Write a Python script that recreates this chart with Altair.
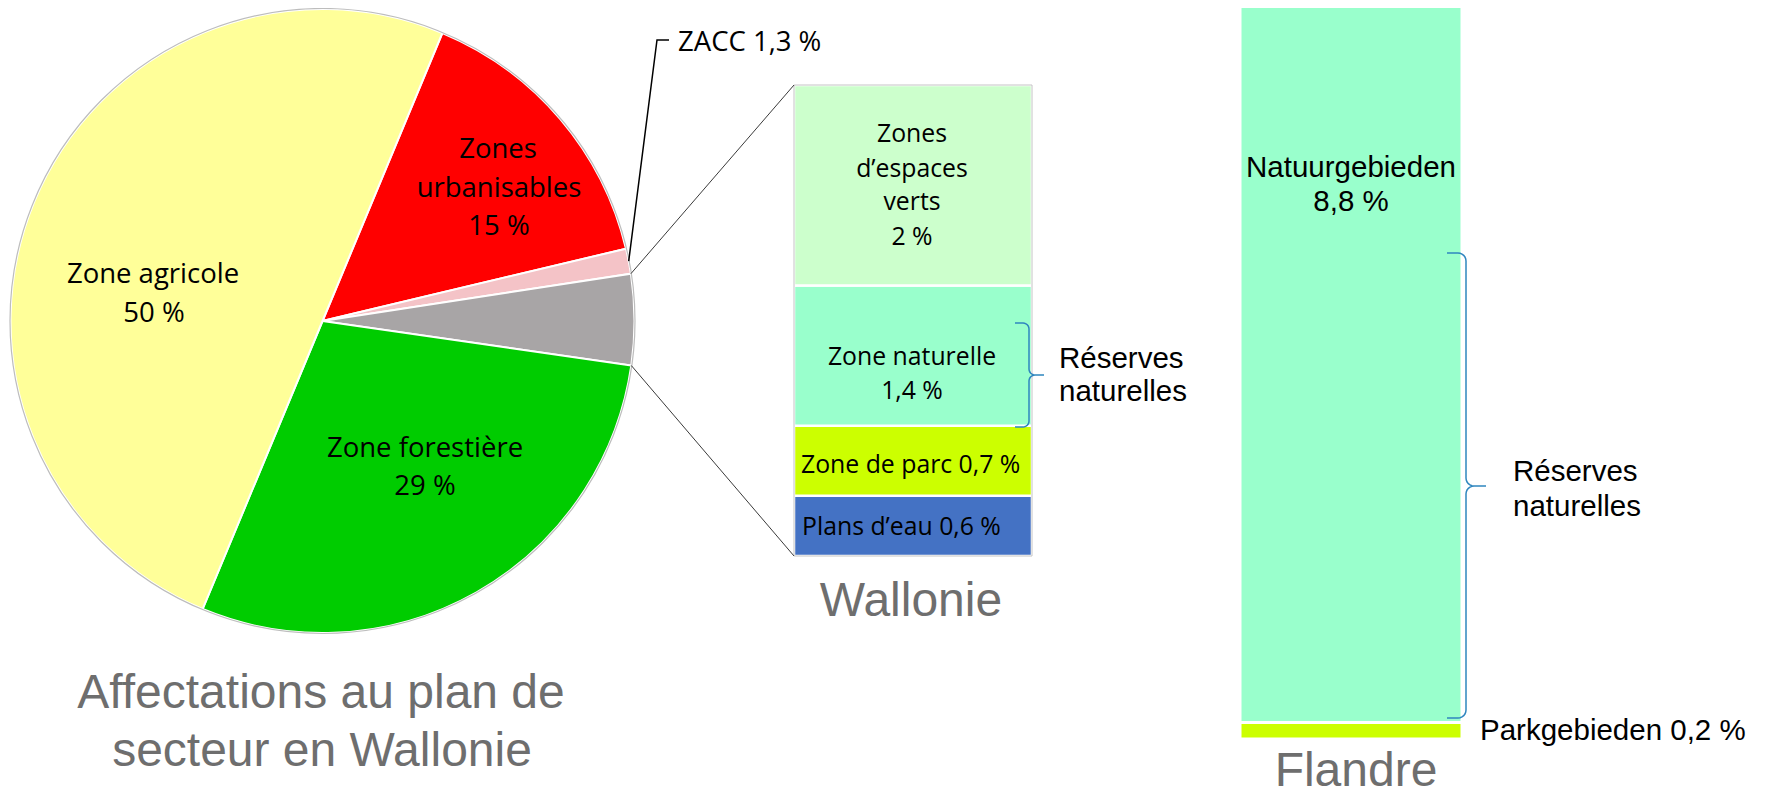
import math
import numpy as np
import pandas as pd
import altair as alt

# ---------------- data ----------------
PIE_LABELS = ["Zones urbanisables", "ZACC", "Espaces verts et naturels", "Zone forestière", "Zone agricole"]
PIE_VALUES = [15, 1.3, 4.7, 29, 50]
PIE_COLORS = ["#FF0000", "#F4C3C7", "#A8A5A6", "#00CC00", "#FFFF99"]

WAL_LABELS = ["Plans d’eau", "Zone de parc", "Zone naturelle", "Zones d’espaces verts"]
WAL_VALUES = [0.6, 0.7, 1.4, 2.0]
WAL_COLORS = ["#4472C4", "#CCFF00", "#99FFCC", "#CCFFCC"]

FLA_LABELS = ["Parkgebieden", "Natuurgebieden"]
FLA_VALUES = [0.2, 8.8]
FLA_COLORS = ["#CCFF00", "#99FFCC"]

# ---------------- layout ----------------
W, H = 1755, 790
CX, CY, R = 314.5, 313, 312
T0 = math.radians(22.6)
WAL_X = (786, 1024)
WAL_Y = (548, 77)
FLA_X = (1232, 1454)
FLA_Y = (731, -10)

CAL = "Open Sans"
HEL = "Liberation Sans"
GREY_TITLE = "#6E6E6E"


def ang(v):
    return T0 + 2 * math.pi * v / 100.0


def on_circle(v):
    a = ang(v)
    return CX + R * math.sin(a), CY - R * math.cos(a)


def text_layer(items, font, size, color="black", align="center", baseline="alphabetic"):
    df = pd.DataFrame(items, columns=["t", "x", "y"])
    return alt.Chart(df).mark_text(
        font=font, fontSize=size, color=color, align=align, baseline=baseline
    ).encode(
        x=alt.X("x:Q", scale=None),
        y=alt.Y("y:Q", scale=None),
        text="t:N",
    )


def line_layer(segments, color, width):
    rows = []
    for s, pts in enumerate(segments):
        for i, (x, y) in enumerate(pts):
            rows.append({"seg": s, "i": i, "x": x, "y": y})
    df = pd.DataFrame(rows)
    return alt.Chart(df).mark_line(color=color, strokeWidth=width).encode(
        x=alt.X("x:Q", scale=None),
        y=alt.Y("y:Q", scale=None),
        detail="seg:N",
        order="i:Q",
    )


def brace(xl, xv, xt, ytop, ybot, ymid, r):
    pts = [(xl, ytop)]
    for t in np.linspace(-90, 0, 7):
        a = math.radians(t)
        pts.append((xv - r + r * math.cos(a), ytop + r + r * math.sin(a)))
    for t in np.linspace(180, 90, 7):
        a = math.radians(t)
        pts.append((xv + r + r * math.cos(a), ymid - r + r * math.sin(a)))
    pts.append((xt, ymid))
    pts.append((xv + r, ymid))
    for t in np.linspace(-90, -180, 7):
        a = math.radians(t)
        pts.append((xv + r + r * math.cos(a), ymid + r + r * math.sin(a)))
    for t in np.linspace(0, 90, 7):
        a = math.radians(t)
        pts.append((xv - r + r * math.cos(a), ybot - r + r * math.sin(a)))
    pts.append((xl, ybot))
    return pts


# ---------------- pie ----------------
pie_df = pd.DataFrame({"cat": PIE_LABELS, "v": PIE_VALUES, "o": list(range(len(PIE_VALUES)))})
pie = alt.Chart(pie_df).mark_arc(radius=R, stroke="white", strokeWidth=2).encode(
    theta=alt.Theta("v:Q", stack=True,
                    scale=alt.Scale(domain=[0, 100], range=[T0, T0 + 2 * math.pi])),
    order=alt.Order("o:Q"),
    color=alt.Color("cat:N", scale=alt.Scale(domain=PIE_LABELS, range=PIE_COLORS), legend=None),
    x=alt.value(CX),
    y=alt.value(CY),
)
pie_outline = alt.Chart(pd.DataFrame({"a": [0]})).mark_arc(
    theta=0, theta2=2 * math.pi, radius=R + 0.5, fillOpacity=0, fill="white",
    stroke="#BDBDBD", strokeWidth=1.2
).encode(x=alt.value(CX), y=alt.value(CY))

# ---------------- Wallonie bar ----------------
wal_df = pd.DataFrame({"cat": WAL_LABELS, "v": WAL_VALUES, "o": list(range(len(WAL_VALUES)))})
wal_scale = alt.Scale(domain=[0, sum(WAL_VALUES)], range=list(WAL_Y), nice=False, zero=False)
wal = alt.Chart(wal_df).transform_stack(
    stack="v", groupby=[], as_=["y0", "y1"], sort=[alt.SortField("o", order="ascending")]
).mark_rect(stroke="white", strokeWidth=2.5).encode(
    x=alt.value(WAL_X[0]), x2=alt.value(WAL_X[1]),
    y=alt.Y("y0:Q", scale=wal_scale, axis=None),
    y2="y1:Q",
    color=alt.Color("cat:N", scale=alt.Scale(domain=WAL_LABELS, range=WAL_COLORS), legend=None),
)
wal_outline = alt.Chart(wal_df).transform_aggregate(total="sum(v)").mark_rect(
    fill="white", fillOpacity=0, stroke="#C4C4C4", strokeWidth=1
).encode(
    x=alt.value(WAL_X[0]), x2=alt.value(WAL_X[1]),
    y=alt.Y("total:Q", scale=wal_scale, axis=None),
    y2=alt.datum(0),
)

# ---------------- Flandre bar ----------------
fla_df = pd.DataFrame({"cat": FLA_LABELS, "v": FLA_VALUES, "o": list(range(len(FLA_VALUES)))})
fla_scale = alt.Scale(domain=[0, sum(FLA_VALUES)], range=list(FLA_Y), nice=False, zero=False)
fla = alt.Chart(fla_df).transform_stack(
    stack="v", groupby=[], as_=["y0", "y1"], sort=[alt.SortField("o", order="ascending")]
).mark_rect(stroke="white", strokeWidth=3).encode(
    x=alt.value(FLA_X[0]), x2=alt.value(FLA_X[1]),
    y=alt.Y("y0:Q", scale=fla_scale, axis=None),
    y2="y1:Q",
    color=alt.Color("cat:N", scale=alt.Scale(domain=FLA_LABELS, range=FLA_COLORS), legend=None),
)

# ---------------- connectors ----------------
g0 = on_circle(15 + 1.3)
g1 = on_circle(15 + 1.3 + 4.7)
connectors = line_layer(
    [[g0, (WAL_X[0], WAL_Y[1])], [g1, (WAL_X[0], WAL_Y[0])]], "#3A3A3A", 1
)
z = on_circle(15 + 0.65)
zacc_leader = line_layer([[z, (649, 32), (661, 32)]], "black", 1.5)

braces = line_layer(
    [brace(1007, 1021, 1036, 315, 419, 367, 6),
     brace(1439, 1458, 1478, 245, 710, 478, 8)],
    "#2F86BF", 1.5,
)

# ---------------- texts ----------------
pie_text = text_layer(
    [("Zone agricole", 145, 275), ("50 %", 146, 314),
     ("Zones", 490, 150), ("urbanisables", 491, 189), ("15 %", 491, 227),
     ("Zone forestière", 417, 449), ("29 %", 417, 487)],
    CAL, 27.5,
)
zacc_text = text_layer([("ZACC 1,3 %", 670, 43)], CAL, 27.5, align="left")
wal_text = text_layer(
    [("Zones", 904, 134), ("d’espaces", 904, 169), ("verts", 904, 202), ("2 %", 904, 237),
     ("Zone naturelle", 904, 357), ("1,4 %", 904, 391)],
    CAL, 24.8,
)
wal_text_left = text_layer(
    [("Zone de parc 0,7 %", 793, 465), ("Plans d’eau 0,6 %", 794, 527)],
    CAL, 24.8, align="left",
)
hel_text = text_layer(
    [("Réserves", 1051, 360), ("naturelles", 1051, 393),
     ("Réserves", 1505, 473), ("naturelles", 1505, 508),
     ("Parkgebieden 0,2 %", 1472, 732)],
    HEL, 29.5, align="left",
)
fla_text = text_layer(
    [("Natuurgebieden", 1343, 169), ("8,8 %", 1343, 203)],
    HEL, 29.5,
)
titles = text_layer(
    [("Affectations au plan de", 313, 700), ("secteur en Wallonie", 314, 758),
     ("Wallonie", 903, 608), ("Flandre", 1348, 778)],
    HEL, 48, color=GREY_TITLE,
)

chart = alt.layer(
    pie, pie_outline, wal, wal_outline, fla, connectors, zacc_leader, braces,
    pie_text, zacc_text, wal_text, wal_text_left, hel_text, fla_text, titles,
).resolve_scale(
    y="independent", color="independent", theta="independent"
).properties(
    width=W, height=H, padding=0, autosize=alt.AutoSizeParams(type="none")
).configure(
    background="white", view=alt.ViewConfig(stroke=None)
)

chart.save("out.html", embed_options={"renderer": "svg", "actions": False})
